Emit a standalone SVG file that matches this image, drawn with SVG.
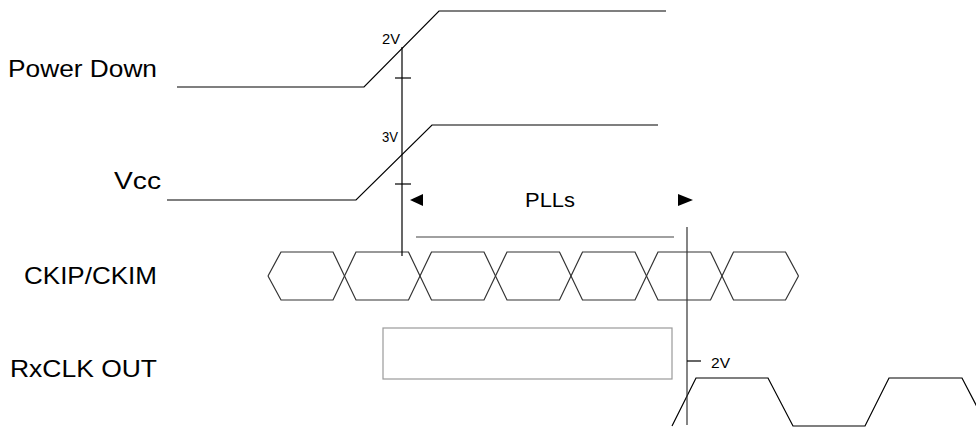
<svg xmlns="http://www.w3.org/2000/svg" width="976" height="427" viewBox="0 0 976 427">
<style>
.lbl{font-family:"Liberation Sans",Arial,sans-serif;font-size:24px;fill:#000}
.sm{font-family:"Liberation Sans",Arial,sans-serif;font-size:14px;fill:#000}
.sig{fill:none;stroke:#000;stroke-width:1.2}
.hex{fill:none;stroke:#333;stroke-width:1.2}
.guide{fill:none;stroke:#000;stroke-width:1.2}
</style>
<rect width="976" height="427" fill="#fff"/>
<g id="power-down">
<text class="lbl" x="8" y="77" textLength="149" lengthAdjust="spacingAndGlyphs">Power Down</text>
<polyline class="sig" points="177,87 364,87 439,11 666,11"/>
<text class="sm" x="382" y="44" textLength="18" lengthAdjust="spacingAndGlyphs">2V</text>
</g>
<g id="vcc">
<text class="lbl" x="114" y="189" textLength="47" lengthAdjust="spacingAndGlyphs">Vcc</text>
<polyline class="sig" points="167,200 356,200 432,125 658,125"/>
<text class="sm" x="382" y="142" textLength="16" lengthAdjust="spacingAndGlyphs">3V</text>
</g>
<g id="ckip-ckim">
<text class="lbl" x="24" y="284" textLength="133" lengthAdjust="spacingAndGlyphs">CKIP/CKIM</text>
<path class="hex" d="M268,276 L281,252 L333,252 L356,300 L408.5,300 L431.5,252 L484,252 L507,300 L559.5,300 L582.5,252 L635,252 L658,300 L710.5,300 L733.5,252 L785.5,252 L798.5,276"/>
<path class="hex" d="M268,276 L281,300 L333,300 L356,252 L408.5,252 L431.5,300 L484,300 L507,252 L559.5,252 L582.5,300 L635,300 L658,252 L710.5,252 L733.5,300 L785.5,300 L798.5,276"/>
</g>
<g id="rxclk-out">
<text class="lbl" x="10" y="377" textLength="147" lengthAdjust="spacingAndGlyphs">RxCLK OUT</text>
<rect x="383" y="328" width="289" height="51" fill="none" stroke="#9a9a9a" stroke-width="1.2"/>
<polyline class="sig" points="672,426 696,378 768,378 793,426 865,426 889,378 962,378 987,426"/>
<text class="sm" x="711" y="368" textLength="19" lengthAdjust="spacingAndGlyphs">2V</text>
</g>
<g id="plls">
<text class="lbl" x="525" y="207" style="font-size:20px" textLength="50" lengthAdjust="spacingAndGlyphs">PLLs</text>
<polygon points="410,200 423,194 423,206" fill="#000"/>
<polygon points="693,200 678,194 678,206" fill="#000"/>
<line x1="416" y1="237" x2="674" y2="237" stroke="#808080" stroke-width="1.5"/>
</g>
<g id="connectors">
<line class="guide" x1="402" y1="47" x2="402" y2="256"/>
<line class="guide" x1="395" y1="78" x2="411" y2="78"/>
<line class="guide" x1="395" y1="184" x2="411" y2="184"/>
<line x1="687" y1="227" x2="687" y2="425" stroke="#333" stroke-width="1.2"/>
<line x1="687" y1="361" x2="701" y2="361" stroke="#000" stroke-width="1.2"/>
</g>
</svg>
